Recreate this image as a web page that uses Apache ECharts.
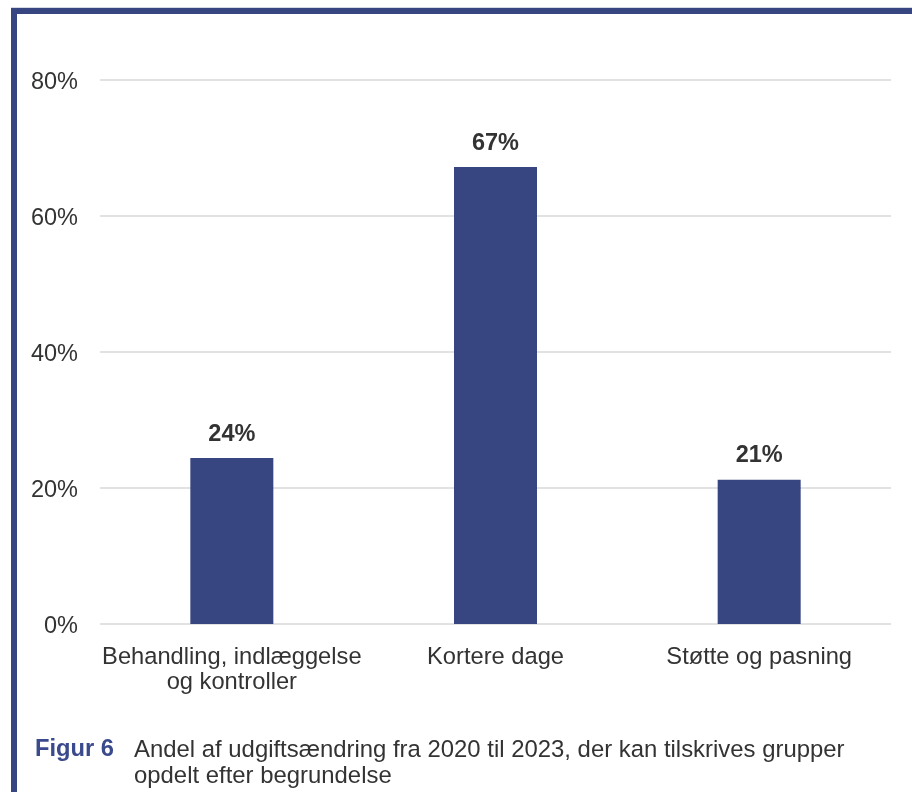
<!DOCTYPE html>
<html><head><meta charset="utf-8">
<script src="https://cdn.jsdelivr.net/npm/echarts@6/dist/echarts.min.js"></script>
<style>html,body{margin:0;padding:0;background:#fff}#c{width:912px;height:792px}</style>
</head><body><div id="c"></div>
<script>
const categories = ['Behandling, indlæggelse\nog kontroller', 'Kortere dage', 'Støtte og pasning'];
const values = [24.4, 67.2, 21.2];
const yTicks = [0, 20, 40, 60, 80];
const captionLabel = 'Figur 6';
const captionText = 'Andel af udgiftsændring fra 2020 til 2023, der kan tilskrives grupper\nopdelt efter begrundelse';

const chart = echarts.init(document.getElementById('c'), null, {renderer: 'canvas'});
const font = '"Liberation Sans", Arial, sans-serif';
chart.setOption({
  animation: false,
  backgroundColor: '#fff',
  grid: {left: 100, right: 21, top: 80, bottom: 168},
  xAxis: {
    type: 'category', data: categories,
    axisLine: {show: false}, axisTick: {show: false},
    axisLabel: {color: '#333', fontSize: 23.7, fontFamily: font, margin: 21, lineHeight: 25, interval: 0}
  },
  yAxis: {
    type: 'value', min: yTicks[0], max: yTicks[yTicks.length - 1], interval: 20,
    axisLine: {show: false}, axisTick: {show: false},
    axisLabel: {color: '#333', fontSize: 23.5, fontFamily: font, margin: 22,
      formatter: v => '{t|' + v + '%}',
      rich: {t: {fontSize: 23.5, fontFamily: font, color: '#333', padding: [6, 0, 0, 0]}}},
    splitLine: {lineStyle: {color: '#d9d9d9', width: 1.5}}
  },
  series: [{
    type: 'bar', data: values, barWidth: 83,
    itemStyle: {color: '#374681'},
    label: {show: true, position: 'top', distance: 12, color: '#333', fontSize: 23.5, fontWeight: 'bold', fontFamily: font,
      formatter: p => Math.round(p.value) + '%'}
  }],
  graphic: [
    {type: 'rect', shape: {x: 11, y: 7, width: 901, height: 1}, style: {fill: '#d6d8e4'}},
    {type: 'rect', shape: {x: 11, y: 8, width: 901, height: 6}, style: {fill: '#374681'}},
    {type: 'rect', shape: {x: 11, y: 8, width: 6, height: 784}, style: {fill: '#374681'}},
    {type: 'text', left: 35, top: 737, style: {text: captionLabel, fill: '#3a4a8c', font: 'bold 23.7px ' + font}},
    {type: 'text', left: 134, top: 737, style: {text: captionText, fill: '#333', font: '23.9px ' + font, lineHeight: 26}}
  ]
});
</script></body></html>
